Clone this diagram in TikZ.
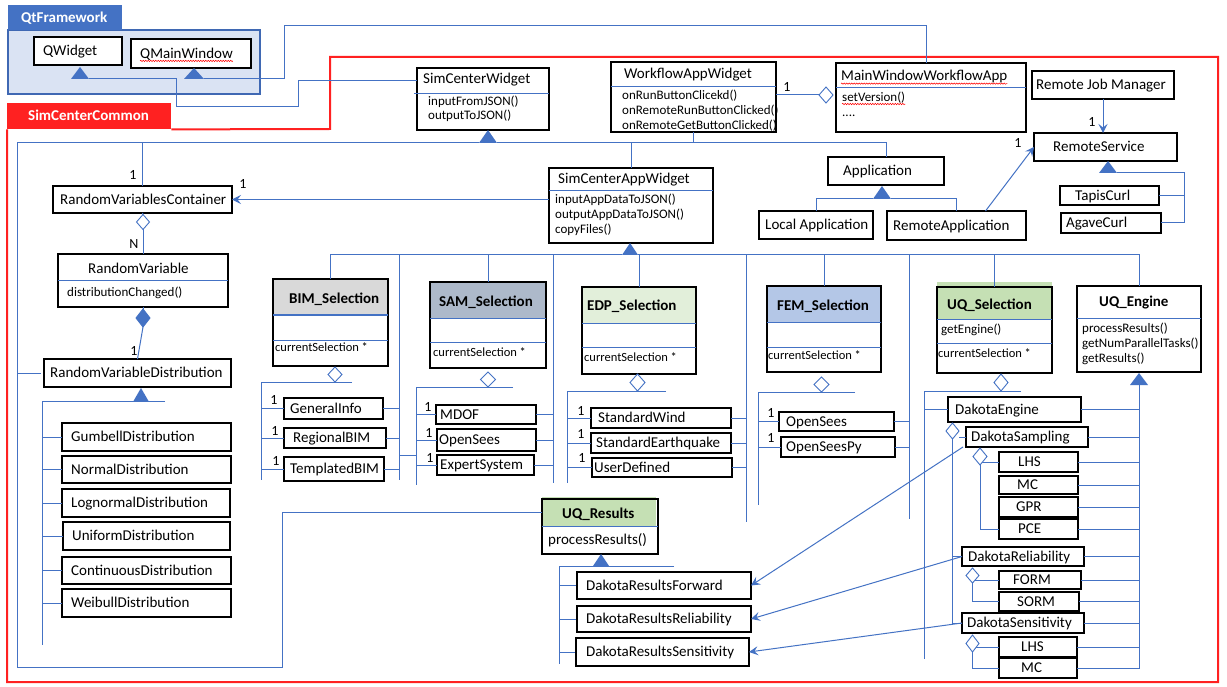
\documentclass[tikz,border=0pt]{standalone}
\usepackage{fontspec}
\setmainfont{Carlito}
\usetikzlibrary{arrows.meta,decorations.pathmorphing}

\definecolor{ln}{HTML}{4472C4}
\definecolor{qtfill}{HTML}{DAE3F3}
\definecolor{qtedge}{HTML}{3F68B3}
\definecolor{rd}{HTML}{FF2121}
\definecolor{hBIM}{HTML}{D9D9D9}
\definecolor{hSAM}{HTML}{ADB9CA}
\definecolor{hEDP}{HTML}{E2EFDA}
\definecolor{hFEM}{HTML}{B4C7E7}
\definecolor{hUQ}{HTML}{C5E0B4}

\newcommand\fA{\fontsize{15}{18}\selectfont}
\newcommand\fM{\fontsize{13}{15.5}\selectfont}
\newcommand\fS{\fontsize{12.5}{15}\selectfont}
\newcommand\fL{\fontsize{14}{16}\selectfont}

\tikzset{
 ubox/.style={draw=black,line width=1.1pt,fill=white,inner sep=0pt,outer sep=0pt,rectangle},
 txt/.style={anchor=west,inner sep=0pt,font=\fA,text height=11pt,text depth=1.5pt},
 ttl/.style={anchor=base west,inner sep=0pt,font=\fA},
 mth/.style={anchor=base west,inner sep=0pt,font=\fM},
 sel/.style={anchor=base west,inner sep=0pt,font=\fS},
 lbl/.style={inner sep=0pt,font=\fL},
 conn/.style={draw=ln,line width=1pt},
 arr/.style={draw=ln,line width=1pt,-{Stealth[length=9pt,width=9pt,inset=3.5pt]}},
 dv/.style={draw=ln,line width=1pt},
 dmd/.style={draw=ln,line width=0.9pt},
 squig/.style={draw=red,line width=0.5pt,decorate,decoration={snake,amplitude=0.7pt,segment length=2.5pt}},
}

\newcommand\bnode[6][]{%
 \pgfmathsetmacro\tbw{#5-#3}\pgfmathsetmacro\tbh{#6-#4}%
 \pgfmathsetmacro\tbx{(#3+#5)/2}\pgfmathsetmacro\tby{(#4+#6)/2}%
 \node[ubox,minimum width=\tbw pt,minimum height=\tbh pt,#1] (#2) at (\tbx,\tby) {};}
\newcommand\lbox[8][]{\bnode{#2}{#3}{#4}{#5}{#6}%
 \node[txt,#1] (#2-t) at ([xshift=#7pt]#2.west) {#8};}
\newcommand\inh[5]{%
 \coordinate (#1) at (#2,#3);
 \fill[ln] (#1) -- ++(-#4,#5) -- ++(2*#4,0) -- cycle;
 \coordinate (#1-l) at ([xshift=-#4pt,yshift=-#5pt]#1);
 \coordinate (#1-r) at ([xshift=#4pt,yshift=-#5pt]#1);
 \coordinate (#1-b) at ([yshift=-#5pt]#1);}
\newcommand\aggc[5]{%
 \coordinate (#1) at (#2,#3);
 \coordinate (#1-n) at ([yshift=#5pt]#1);
 \coordinate (#1-s) at ([yshift=-#5pt]#1);
 \coordinate (#1-e) at ([xshift=#4pt]#1);
 \coordinate (#1-w) at ([xshift=-#4pt]#1);}
\newcommand\aggd[2][white]{\filldraw[dmd,fill=#1] (#2-n) -- (#2-e) -- (#2-s) -- (#2-w) -- cycle;}

\begin{document}
\begin{tikzpicture}[x=1pt,y=-1pt]
\useasboundingbox (0,0) rectangle (1227,687);
\fill[white] (0,0) rectangle (1227,687);

% ---------- package frames ----------
\filldraw[fill=qtfill,draw=qtedge,line width=1.2pt] (8,30) rectangle (260,94);
\node[fill=ln,minimum width=114pt,minimum height=25pt,inner sep=0pt,anchor=north west] (qtTab) at (8,5) {};
\node[txt,text=white,font=\fA\bfseries] (qtTab-t) at ([xshift=13pt]qtTab.west) {QtFramework};

\node[fill=rd,minimum width=164pt,minimum height=26pt,inner sep=0pt,anchor=north west] (scTab) at (7,103) {};
\node[txt,text=white,font=\fA\bfseries] (scTab-t) at ([xshift=21pt]scTab.west) {SimCenterCommon};
\draw[rd,line width=2pt] (scTab.south east) -- (330,129) -- (330,57) -- (1218,57) -- (1218,682) -- (7,682) -- (scTab.south west);

% ---------- Qt classes ----------
\lbox{QW}{34}{37}{122}{65}{9}{QWidget}
\lbox{QMW}{131}{39}{251}{68}{9}{QMainWindow}
\draw[squig] ([yshift=-1pt]QMW-t.south west) -- ([yshift=-1pt]QMW-t.south east);

% ---------- top classes ----------
\bnode{SCW}{417}{68}{549}{130}
\draw[dv] (414,94) -- (549,94);
\node[ttl] (SCW-t) at (423,84) {SimCenterWidget};
\node[mth] (SCW-m1) at (428,106) {inputFromJSON()};
\node[mth] (SCW-m2) at (428,120) {outputToJSON()};

\bnode{WAW}{611}{62}{776}{132}
\draw[dv] (611,87) -- (776,87);
\node[ttl] (WAW-t) at (624,79) {WorkflowAppWidget};
\node[mth] (WAW-m1) at (622,100) {onRunButtonClicekd()};
\node[mth] (WAW-m2) at (622,115) {onRemoteRunButtonClicked()};
\node[mth] (WAW-m3) at (622,130) {onRemoteGetButtonClicked()};

\bnode{MWWA}{836}{63}{1026}{132}
\draw[dv] (836,88) -- (1026,88);
\node[ttl] (MWWA-t) at (841,81) {MainWindowWorkflowApp};
\node[mth] (MWWA-m1) at (842,102) {setVersion()};
\node[mth] (MWWA-m2) at (842,117) {....};
\draw[squig] (MWWA-t.south west) -- (MWWA-t.south east);
\draw[squig] (MWWA-m1.south west) -- (MWWA-m1.south east);

\bnode{SCAW}{549}{168}{713}{243}
\draw[dv] (549,191) -- (713,191);
\node[ttl] (SCAW-t) at (558,184) {SimCenterAppWidget};
\node[mth] (SCAW-m1) at (555,204) {inputAppDataToJSON()};
\node[mth] (SCAW-m2) at (555,219) {outputAppDataToJSON()};
\node[mth] (SCAW-m3) at (555,234) {copyFiles()};

\lbox{RJM}{1032}{71}{1174}{99}{4}{Remote Job Manager}
\lbox{RS}{1034}{133}{1177}{161}{19}{RemoteService}
\lbox{TC}{1060}{186}{1159}{205}{15}{TapisCurl}
\lbox{AC}{1061}{213}{1161}{233}{5}{AgaveCurl}
\lbox{App}{828}{157}{944}{185}{15}{Application}
\lbox{LA}{759}{211}{873}{239}{6}{Local Application}
\lbox{RA}{887}{211}{1026}{240}{6}{RemoteApplication}

% ---------- random variables ----------
\lbox{RVC}{53}{186}{232}{213}{7}{RandomVariablesContainer}
\bnode{RV}{58}{254}{228}{307}
\draw[dv] (58,281) -- (228,281);
\node[ttl] (RV-t) at (88,273) {RandomVariable};
\node[mth] (RV-m1) at (67,297) {distributionChanged()};
\lbox{RVD}{44}{359}{231}{387}{6}{RandomVariableDistribution}
\lbox{GD}{62}{423}{231}{451}{9}{GumbellDistribution}
\lbox{ND}{62}{456}{231}{483}{9}{NormalDistribution}
\lbox{LD}{62}{489}{230}{517}{9}{LognormalDistribution}
\lbox{UD}{63}{522}{230}{550}{9}{UniformDistribution}
\lbox{CD}{62}{557}{231}{584}{9}{ContinuousDistribution}
\lbox{WD}{62}{589}{231}{617}{9}{WeibullDistribution}

% ---------- selection classes ----------
\fill[hBIM] (273,279) rectangle (388,315);
\bnode[fill=none]{BIM}{273}{279}{388}{366}
\draw[dv] (273,315) -- (388,315); \draw[dv] (273,340) -- (388,340);
\node[ttl,font=\fA\bfseries] (BIM-t) at (289,303) {BIM\_Selection};
\node[sel] (BIM-s) at (275,352) {currentSelection *};

\fill[hSAM] (430,282) rectangle (546,318);
\bnode[fill=none]{SAM}{430}{282}{546}{368}
\draw[dv] (430,318) -- (546,318); \draw[dv] (430,342) -- (546,342);
\node[ttl,font=\fA\bfseries] (SAM-t) at (439,307) {SAM\_Selection};
\node[sel] (SAM-s) at (433,356) {currentSelection *};

\fill[hEDP] (582,287) rectangle (696,323);
\bnode[fill=none]{EDP}{582}{287}{696}{374}
\draw[dv] (582,323) -- (696,323); \draw[dv] (582,347) -- (696,347);
\node[ttl,font=\fA\bfseries] (EDP-t) at (587,311) {EDP\_Selection};
\node[sel] (EDP-s) at (584,361) {currentSelection *};

\fill[hFEM] (767,286) rectangle (881,322);
\bnode[fill=none]{FEM}{767}{286}{881}{372}
\draw[dv] (767,322) -- (881,322); \draw[dv] (767,347) -- (881,347);
\node[ttl,font=\fA\bfseries] (FEM-t) at (777,311) {FEM\_Selection};
\node[sel] (FEM-s) at (768,359) {currentSelection *};

\fill[hUQ] (937,282) rectangle (1052,319);
\bnode[fill=none]{UQS}{937}{287}{1052}{373}
\draw[dv] (937,319) -- (1052,319); \draw[dv] (937,343) -- (1052,343);
\node[ttl,font=\fA\bfseries] (UQS-t) at (947,309) {UQ\_Selection};
\node[mth] (UQS-m1) at (941,334) {getEngine()};
\node[sel] (UQS-s) at (938,357) {currentSelection *};

\bnode{UQE}{1077}{286}{1201}{372}
\draw[dv] (1077,318) -- (1201,318);
\node[ttl,font=\fA\bfseries] (UQE-t) at (1099,307) {UQ\_Engine};
\node[mth] (UQE-m1) at (1082,332) {processResults()};
\node[mth] (UQE-m2) at (1082,347) {getNumParallelTasks()};
\node[mth] (UQE-m3) at (1082,362) {getResults()};

\fill[hUQ] (542,497) rectangle (656,526);
\bnode[fill=none]{UQR}{542}{499}{658}{554}
\draw[dv] (542,526) -- (658,526);
\node[ttl,font=\fA\bfseries] (UQR-t) at (562,518) {UQ\_Results};
\node[ttl] (UQR-m1) at (548,544) {processResults()};

% ---------- sub classes ----------
\lbox{GI}{284}{398}{383}{419}{6}{GeneralInfo}
\lbox{RB}{284}{428}{386}{448}{9}{RegionalBIM}
\lbox{TB}{284}{457}{384}{481}{6}{TemplatedBIM}

\lbox{MD}{436}{405}{536}{424}{4}{MDOF}
\lbox{SOS}{437}{429}{536}{451}{2}{OpenSees}
\lbox{ES}{437}{455}{534}{475}{3}{ExpertSystem}

\lbox{SW}{591}{408}{731}{428}{7}{StandardWind}
\lbox{SE}{591}{433}{731}{453}{5}{StandardEarthquake}
\lbox{UDF}{592}{458}{732}{477}{2}{UserDefined}

\lbox{FOS}{779}{412}{894}{431}{7}{OpenSees}
\lbox{FPY}{781}{437}{895}{457}{5}{OpenSeesPy}

\lbox{DE}{948}{397}{1081}{422}{7}{DakotaEngine}
\lbox{DS}{966}{427}{1088}{447}{5}{DakotaSampling}
\lbox{LHS}{999}{452}{1078}{472}{19}{LHS}
\lbox{MC}{999}{476}{1078}{494}{18}{MC}
\lbox{GPR}{999}{497}{1078}{517}{17}{GPR}
\lbox{PCE}{999}{519}{1078}{539}{19}{PCE}
\lbox{DR}{962}{547}{1084}{566}{6}{DakotaReliability}
\lbox{FORM}{999}{571}{1081}{589}{14}{FORM}
\lbox{SORM}{999}{592}{1079}{611}{18}{SORM}
\lbox{DSen}{962}{613}{1084}{633}{5}{DakotaSensitivity}
\lbox{LHSb}{999}{637}{1077}{657}{22}{LHS}
\lbox{MCb}{999}{658}{1077}{678}{22}{MC}

\lbox{DRF}{577}{572}{751}{599}{9}{DakotaResultsForward}
\lbox{DRR}{577}{606}{751}{632}{9}{DakotaResultsReliability}
\lbox{DRS}{576}{638}{749}{666}{10}{DakotaResultsSensitivity}

% ---------- inheritance triangles ----------
\inh{tQW}{80}{67}{9}{12}
\inh{tQM}{194}{68}{10}{11}
\inh{tSCW}{488}{130}{9}{13}
\inh{tSCAW}{630}{243}{8}{12}
\inh{tRVD}{141}{388}{7.5}{13}
\inh{tApp}{882}{186}{9}{13}
\inh{tRS}{1108}{161}{9}{12}
\inh{tUQE}{1139}{373}{9}{12}
\inh{tUQR}{601}{554}{8}{12}

% ---------- aggregation diamonds (coordinates) ----------
\aggc{dRVC}{143}{222}{6.5}{7.5}
\aggc{dRV}{143}{318}{7}{9}
\aggc{dMW}{826}{95}{7}{8}
\aggc{dBIM}{335}{374.5}{7}{7.5}
\aggc{dSAM}{488}{379.5}{7.5}{7.5}
\aggc{dEDP}{637.5}{382.5}{7.5}{8.5}
\aggc{dFEM}{821.5}{384.5}{7.5}{7.5}
\aggc{dUQS}{1001}{382.5}{7}{8.5}
\aggc{dDE}{952.5}{431}{6.5}{8}
\aggc{dDS}{980}{456.5}{7}{8.5}
\aggc{dDR}{972.5}{575.5}{6.5}{7.5}
\aggc{dDSen}{972.5}{643.5}{6.5}{8.5}

% ---------- connectors ----------
\coordinate (qw1) at (176,107); \coordinate (qw2) at (298,81);
\draw[conn] (tQW-r) -| (qw1) -| (qw2) -- (qw2 -| SCW.west);
\coordinate (qm1) at (284,26); \coordinate (qm2) at (926,26);
\draw[conn] (tQM-r) -| (qm1) -- (qm2) -- (qm2 |- MWWA.north);

\coordinate (bL) at (17,143); \coordinate (bB) at (282,667); \coordinate (bU) at (282,512);
\draw[conn] (tSCW-l) -- (bL) |- (bB) -- (bU) -- (bU -| UQR.west);
\draw[conn] (tSCW-r) -| (App.north);
\draw[conn] (RVC.north |- bL) -- (RVC.north);
\draw[conn] (WAW.south) -- (WAW.south |- bL);
\draw[conn] (SCAW.north |- bL) -- (SCAW.north);
\draw[conn] (RVD.west -| bL) -- ([xshift=-3pt]RVD.west);

\draw[arr] (SCAW.west |- RVC.east) -- (RVC.east);
\draw[conn] (RVC.south) -- (dRVC-n);
\draw[conn] (dRVC-s) -- (RV.north);
\draw[conn] (RV.south) -- (dRV-n);
\draw[conn] (dRV-s) -- (RVD.north);

\coordinate (dvR) at (165,401); \coordinate (dvE) at (42,645);
\draw[conn] (dvR) -- (dvR -| dvE) -- (dvE);
\foreach \n in {GD,ND,LD,UD,CD,WD} {\draw[conn] (\n.west -| dvE) -- (\n.west);}

\draw[conn] (WAW.east |- dMW) -- (dMW-w);
\draw[arr] (RJM.south) -- (RJM.south |- RS.north);
\draw[arr] ([xshift=29pt]RA.north) -- (RS.west);
\draw[conn] (tApp-l) -| (LA.north);
\draw[conn] (tApp-r) -| (RA.north);
\coordinate (rsx) at (1184,173);
\draw[conn] (tRS-r) -- (rsx) |- (AC.east);
\draw[conn] (TC.east) -- (TC.east -| rsx);

% SimCenterAppWidget bus
\draw[conn] (BIM.north) |- (tSCAW-l);
\draw[conn] (tSCAW-r) -| (UQE.north);
\foreach \n in {SAM,EDP,FEM,UQS} {\draw[conn] (\n.north) -- (\n.north |- tSCAW-l);}
\coordinate (rb1t) at (399,255); \coordinate (rb1b) at (399,480);
\coordinate (rb2t) at (553,255); \coordinate (rb2b) at (553,483);
\coordinate (rb3t) at (746,255); \coordinate (rb3b) at (746,522);
\coordinate (rb4t) at (909,255); \coordinate (rb4b) at (909,519);
\draw[conn] (rb1t) -- (rb1b);
\draw[conn] (rb2t) -- (rb2b);
\draw[conn] (rb3t) -- (rb3b);
\draw[conn] (rb4t) -- (rb4b);

% BIM
\coordinate (bimA) at (261,382); \coordinate (bimB) at (352,382); \coordinate (bimC) at (261,480);
\draw[conn] (bimB) -- (bimA) -- (bimC);
\foreach \n in {GI,RB,TB} {\draw[conn] (\n.west -| bimA) -- (\n.west); \draw[conn] (\n.east) -- (\n.east -| rb1t);}
\coordinate (lnk) at (416,455);
\draw[conn] (lnk -| rb1t) -- (lnk);
% SAM
\coordinate (samA) at (416,387); \coordinate (samB) at (513,387); \coordinate (samC) at (416,485);
\draw[conn] (samB) -- (samA) -- (samC);
\foreach \n in {MD,SOS,ES} {\draw[conn] (\n.west -| samA) -- (\n.west); \draw[conn] (\n.east) -- (\n.east -| rb2t);}
% EDP
\coordinate (edpA) at (567,391); \coordinate (edpB) at (666,391); \coordinate (edpC) at (567,483);
\draw[conn] (edpB) -- (edpA) -- (edpC);
\foreach \n in {SW,SE,UDF} {\draw[conn] (\n.west -| edpA) -- (\n.west); \draw[conn] (\n.east) -- (\n.east -| rb3t);}
% FEM
\coordinate (femA) at (758,392); \coordinate (femB) at (855,392); \coordinate (femC) at (758,505);
\draw[conn] (femB) -- (femA) -- (femC);
\foreach \n in {FOS,FPY} {\draw[conn] (\n.west -| femA) -- (\n.west); \draw[conn] (\n.east) -- (\n.east -| rb4t);}
% UQ
\coordinate (uqA) at (924,391); \coordinate (uqB) at (1021,391); \coordinate (uqC) at (924,659);
\draw[conn] (uqB) -- (uqA) -- (uqC);
\draw[conn] (DE.west -| uqA) -- (DE.west);
\foreach \n in {DE,DS,LHS,MC,GPR,PCE,DR,FORM,SORM,DSen,LHSb} {\draw[conn] (\n.east) -- (\n.east -| tUQE);}
\draw[conn] (tUQE-b) |- (MCb.east);

\draw[conn] (dDE-s) |- (DSen.west);
\draw[conn] (dDE-e |- DS.west) -- (DS.west);
\draw[conn] (DR.west -| dDE) -- (DR.west);
\draw[conn] (dDS-s) |- (PCE.west);
\draw[conn] (LHS.west -| dDS) -- (LHS.west);
\draw[conn] (dDR-s) |- (SORM.west);
\draw[conn] (FORM.west -| dDR) -- (FORM.west);
\draw[conn] (dDSen-s) |- (MCb.west);
\draw[conn] (LHSb.west -| dDSen) -- (LHSb.west);

\draw[arr] ([xshift=-3pt]DS.south west) -- (DRF.east);
\draw[arr] (DR.west) -- (DRR.east);
\draw[arr] (DSen.west) -- (DRS.east);

% UQ_Results
\coordinate (urA) at (559,566); \coordinate (urB) at (674,566); \coordinate (urC) at (559,664);
\draw[conn] (urB) -- (urA) -- (urC);
\foreach \n in {DRF,DRR,DRS} {\draw[conn] (\n.west -| urA) -- ([xshift=-1pt]\n.west);}

% ---------- diamonds drawn on top ----------
\aggd{dRVC} \aggd[ln]{dRV} \aggd{dMW} \aggd{dBIM} \aggd{dSAM} \aggd{dEDP}
\aggd{dFEM} \aggd{dUQS} \aggd{dDE} \aggd{dDS} \aggd{dDR} \aggd{dDSen}

% ---------- multiplicity labels ----------
\node[lbl] (m1) at (133,175) {1};
\node[lbl] (m2) at (243,184) {1};
\node[lbl] (m3) at (134,244) {N};
\node[lbl] (m4) at (134,351) {1};
\node[lbl] (m5) at (787,87) {1};
\node[lbl] (m6) at (1092,122) {1};
\node[lbl] (m7) at (1018,143) {1};
\node[lbl] (b1) at (274,400) {1};
\node[lbl] (b2) at (275,431) {1};
\node[lbl] (b3) at (276,461) {1};
\node[lbl] (s1) at (428,407) {1};
\node[lbl] (s2) at (429,433) {1};
\node[lbl] (s3) at (430,458) {1};
\node[lbl] (e1) at (581,411) {1};
\node[lbl] (e2) at (581,434) {1};
\node[lbl] (e3) at (582,458) {1};
\node[lbl] (f1) at (771,413) {1};
\node[lbl] (f2) at (771,438) {1};
\end{tikzpicture}
\end{document}
